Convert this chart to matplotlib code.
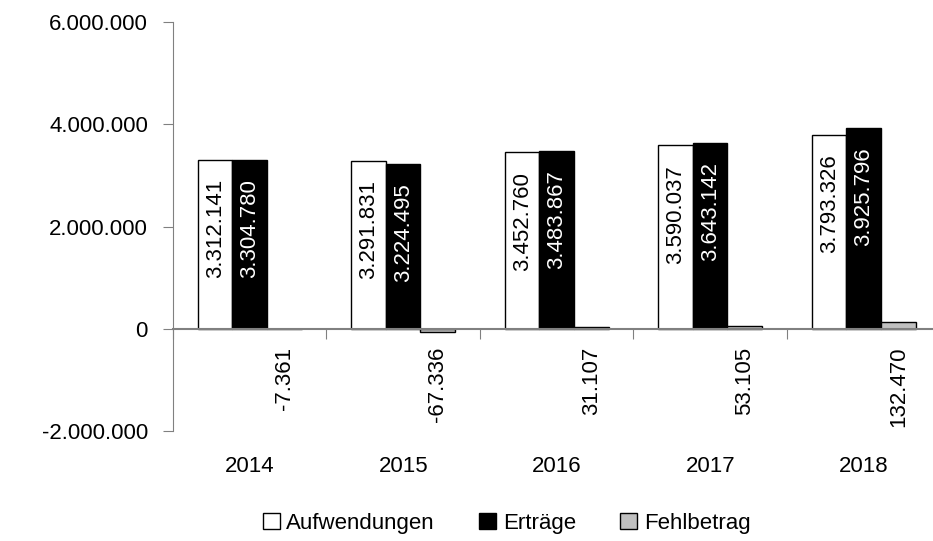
import numpy as np
import matplotlib
matplotlib.use("Agg")
import matplotlib.pyplot as plt
from matplotlib.patches import Patch

years = ["2014", "2015", "2016", "2017", "2018"]
aufwendungen = [3312141, 3291831, 3452760, 3590037, 3793326]
ertraege = [3304780, 3224495, 3483867, 3643142, 3925796]
fehlbetrag = [-7361, -67336, 31107, 53105, 132470]
yticks = [-2000000, 0, 2000000, 4000000, 6000000]


def de(v):
    return f"{v:,}".replace(",", ".")


plt.rcParams['font.family'] = ['Liberation Sans', 'DejaVu Sans']
fs = 16

fig = plt.figure(figsize=(9.33, 5.41), dpi=100)
ax = fig.add_axes([0.1854, 0.2033, 1.008 - 0.1854, 0.959 - 0.2033])

x = np.arange(len(years))
w = 0.225
ax.bar(x - w, aufwendungen, w, color='white', edgecolor='black', lw=1)
ax.bar(x, ertraege, w, color='black', edgecolor='black', lw=1)
ax.bar(x + w, fehlbetrag, w, color='#c0c0c0', edgecolor='black', lw=1)

for xi, v in zip(x - w, aufwendungen):
    ax.annotate(de(v), (xi, v), xytext=(0, -14), textcoords='offset points',
                rotation=90, ha='center', va='top', fontsize=fs, color='black')
for xi, v in zip(x, ertraege):
    ax.annotate(de(v), (xi, v), xytext=(0, -14), textcoords='offset points',
                rotation=90, ha='center', va='top', fontsize=fs, color='white')
for xi, v in zip(x + w, fehlbetrag):
    ax.annotate(de(v), (xi, 0), xytext=(0, -13), textcoords='offset points',
                rotation=90, ha='center', va='top', fontsize=fs, color='black')

ax.set_xlim(-0.5, 4.5)
ax.set_ylim(-2000000, 6000000)
ax.set_yticks(yticks)
ax.set_yticklabels([de(v) for v in yticks], fontsize=fs)
ax.tick_params(axis='y', length=7, color='#808080', pad=11)

ax.set_xticks(np.arange(-0.5, 5, 1))
ax.set_xticklabels([])
ax.tick_params(axis='x', length=7, color='#808080')
for xi, yr in zip(x, years):
    ax.text(xi, -0.086, yr, transform=ax.get_xaxis_transform(),
            ha='center', va='center', fontsize=fs)

for s in ['top', 'right']:
    ax.spines[s].set_visible(False)
ax.spines['bottom'].set_position(('data', 0))
ax.spines['bottom'].set_color('#808080')
ax.spines['left'].set_color('#808080')
ax.spines['bottom'].set_linewidth(1.5)

handles = [Patch(facecolor='white', edgecolor='black'),
           Patch(facecolor='black', edgecolor='black'),
           Patch(facecolor='#c0c0c0', edgecolor='black')]
fig.legend(handles, ['Aufwendungen', 'Erträge', 'Fehlbetrag'], loc='center',
           bbox_to_anchor=(0.543, 0.033), ncol=3, frameon=False, fontsize=fs,
           handlelength=0.75, handleheight=0.75, handletextpad=0.3,
           columnspacing=2.0)

fig.savefig('out.png', dpi=100)
